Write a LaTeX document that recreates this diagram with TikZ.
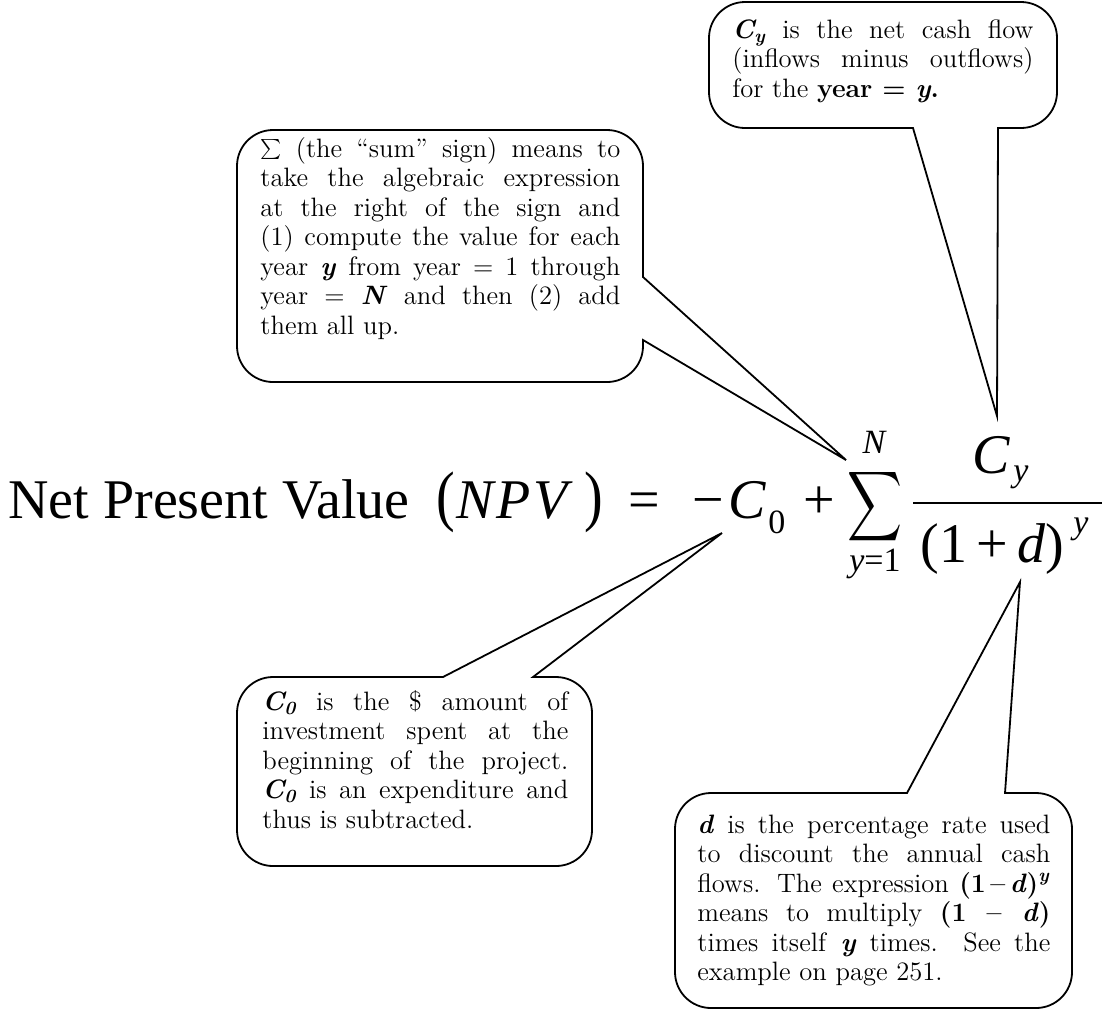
\documentclass[tikz,border=0pt]{standalone}
\usepackage{fontspec}
\usepackage{graphicx}
\newfontfamily\eqfont{Liberation Serif}
\tikzset{
  bubble/.style={draw=black, line width=0.9pt, fill=white, line join=miter},
  note/.style={anchor=base west, inner sep=0pt, align=justify,
    font=\fontsize{13.3}{14.75}\selectfont},
  eqbig/.style={anchor=base west, inner sep=0pt, font=\eqfont\fontsize{28}{32}\selectfont},
  eqsmall/.style={anchor=base west, inner sep=0pt, font=\eqfont\fontsize{17}{20}\selectfont}
}
\begin{document}
\begin{tikzpicture}[x=0.5pt,y=-0.5pt]
  \useasboundingbox (0,0) rectangle (1108,1009);
  \coordinate (cytip) at (997,416);
  \coordinate (sumtip) at (846,460);
  \coordinate (czerotip) at (722,533);
  \coordinate (dtip) at (1020,582);
  \draw[bubble] (745,2) -- (1021,2) arc[start angle=-90,end angle=0,radius=36] -- (1057,92)
    arc[start angle=0,end angle=90,radius=36] -- (998,128) -- (cytip) -- (913,128) -- (745,128)
    arc[start angle=90,end angle=180,radius=36] -- (709,38) arc[start angle=180,end angle=270,radius=36] -- cycle;
  \draw[bubble] (273,130) -- (607,130) arc[start angle=-90,end angle=0,radius=36] -- (643,277)
    -- (sumtip) -- (643,340) -- (643,346) arc[start angle=0,end angle=90,radius=36] -- (273,382)
    arc[start angle=90,end angle=180,radius=36] -- (237,166) arc[start angle=180,end angle=270,radius=36] -- cycle;
  \draw[bubble] (273,677) -- (443,677) -- (czerotip) -- (533,677) -- (556,677)
    arc[start angle=-90,end angle=0,radius=36] -- (592,830) arc[start angle=0,end angle=90,radius=36] -- (273,866)
    arc[start angle=90,end angle=180,radius=36] -- (237,713) arc[start angle=180,end angle=270,radius=36] -- cycle;
  \draw[bubble] (711,793) -- (907,793) -- (dtip) -- (1005,793) -- (1036,793)
    arc[start angle=-90,end angle=0,radius=36] -- (1072,972) arc[start angle=0,end angle=90,radius=36] -- (711,1008)
    arc[start angle=90,end angle=180,radius=36] -- (675,829) arc[start angle=180,end angle=270,radius=36] -- cycle;
  \node[note, text width=150.5pt] (cytext) at (732,38) {\textbf{\textit{C\textsubscript{y}}} is the net cash flow\linebreak
    (inflows minus outflows)\linebreak for the \textbf{year = \textit{y}.}};
  \node[note, text width=180pt] (sumtext) at (260,157) {$\sum$ (the ``sum'' sign) means to\linebreak
    take the algebraic expression\linebreak at the right of the sign and\linebreak
    (1) compute the value for each\linebreak year \textbf{\textit{y}} from year = 1 through\linebreak
    year = \textbf{\textit{N}} and then (2) add\linebreak them all up.};
  \node[note, text width=153pt] (czerotext) at (262,710) {\textbf{\textit{C\textsubscript{0}}} is the \$ amount of\linebreak
    investment spent at the\linebreak beginning of the project.\linebreak
    \textbf{\textit{C\textsubscript{0}}} is an expenditure and\linebreak thus is subtracted.};
  \node[note, text width=176.5pt] (dtext) at (697,833) {\textbf{\textit{d}} is the percentage rate used\linebreak
    to discount the annual cash\linebreak flows. The expression \textbf{(1\,–\,\textit{d})\textsuperscript{\textit{y}}}\linebreak
    means to multiply \textbf{(1 – \textit{d})}\linebreak times itself \textbf{\textit{y}} times. See the\linebreak
    example on page 251.};
  \node[eqbig] (npvlabel) at (8,518) {Net Present Value};
  \node[eqbig] (lparen) at (436,518) {\scalebox{1}[1.2]{(}};
  \node[eqbig] (npv) at (456,518) {\itshape N\kern1.5pt P\kern1.5pt V};
  \node[eqbig] (rparen) at (584,518) {\scalebox{1}[1.2]{)}};
  \node[eqbig] (equals) at (628,518) {=};
  \node[eqbig] (minus) at (692,518) {−};
  \node[eqbig] (czero) at (728,518) {\itshape C};
  \node[eqsmall] (czerosub) at (768,533) {0};
  \node[eqbig] (plus) at (803,518) {+};
  \node[anchor=north west, inner sep=0pt] (sigma) at (847,467) {\resizebox*{27.5pt}{39pt}{$\displaystyle\sum$}};
  \node[eqsmall, anchor=base] (upper) at (874,453) {\itshape N};
  \node[eqsmall, anchor=base] (lower) at (875,571) {\itshape y\upshape =1};
  \node[eqbig] (cnum) at (972,473) {\itshape C};
  \node[eqsmall] (cnumsub) at (1013,481) {\itshape y};
  \draw[line width=1pt] (913,503) -- (1102,503);
  \node[eqbig] (denom) at (920,562) {(1\,+\,\textit{d})};
  \node[eqsmall] (denomsup) at (1073,533) {\itshape y};
\end{tikzpicture}
\end{document}
